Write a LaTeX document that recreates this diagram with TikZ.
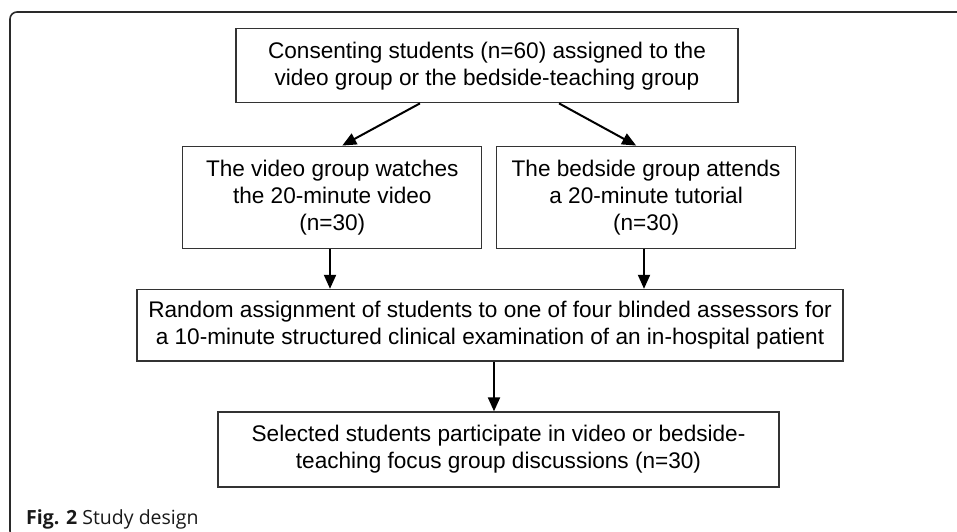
\documentclass[tikz,border=0pt]{standalone}
\usepackage{fontspec}
\setmainfont{Liberation Sans}
\newfontfamily\capfont{Open Sans}
\usetikzlibrary{arrows.meta}
\definecolor{boxline}{HTML}{333333}
\definecolor{frameline}{HTML}{2A2A2A}
\tikzset{
  stagebox/.style={draw=boxline, line width=1.3pt, align=center, inner sep=0pt,
    font=\fontsize{22.6}{27}\selectfont},
  flow/.style={line width=2pt, draw=black,
    -{Triangle[length=14pt,width=12pt]}}
}
\begin{document}
\begin{tikzpicture}[x=1pt,y=-1pt]
\useasboundingbox (0,0) rectangle (957,531);
% outer figure frame (only its top and left edges fall inside the page)
\begin{scope}
\clip (0,0) rectangle (957,531);
\draw[frameline, line width=1.6pt, rounded corners=7pt] (10,12) rectangle (975,538);
\end{scope}

\node[stagebox, minimum width=502pt, minimum height=74pt] (top) at (487,65.7)
  {Consenting students (n=60) assigned to the\\video group or the bedside-teaching group};
\node[stagebox, minimum width=299pt, minimum height=102pt] (video) at (332.3,197.2)
  {The video group watches\\the 20-minute video\\(n=30)};
\node[stagebox, minimum width=299pt, minimum height=102pt] (bedside) at (646.1,197.2)
  {The bedside group attends\\a 20-minute tutorial\\(n=30)};
\node[stagebox, minimum width=706pt, minimum height=71.5pt] (random) at (490,325.2)
  {Random assignment of students to one of four blinded assessors for\\a 10-minute structured clinical examination of an in-hospital patient};
\node[stagebox, minimum width=561pt, minimum height=75pt] (final) at (498.5,449.5)
  {Selected students participate in video or bedside-\\teaching focus group discussions (n=30)};

% connectors
\draw[flow] ([xshift=-67pt]top.south) -- ([xshift=10pt]video.north);
\draw[flow] ([xshift=72pt]top.south) -- ([xshift=-10pt]bedside.north);
\coordinate (vx) at (330,0);
\coordinate (bx) at (644,0);
\coordinate (rx) at (494,0);
\draw[flow] (video.south -| vx) -- (random.north -| vx);
\draw[flow] (bedside.south -| bx) -- (random.north -| bx);
\draw[flow] (random.south -| rx) -- (final.north -| rx);

% caption
\node[anchor=base west, inner sep=0pt, text=black!90, font=\capfont\fontsize{19.5}{22}\selectfont]
  (caption) at (26,524.5) {\textbf{Fig. 2} Study design};
\end{tikzpicture}
\end{document}
